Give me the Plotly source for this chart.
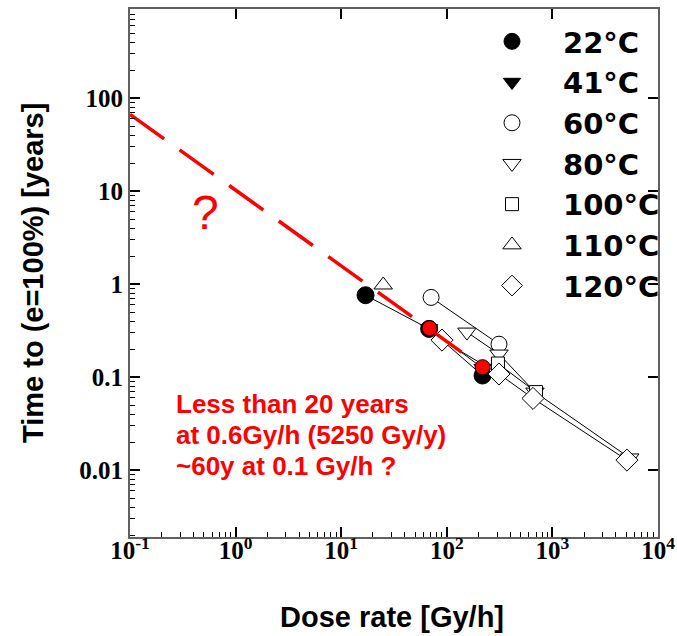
import plotly.graph_objects as go

# ---------------- data ----------------
temps = ["22°C", "41°C", "60°C", "80°C", "100°C", "110°C", "120°C"]

x_22 = [17, 68, 218]
y_22 = [0.76, 0.33, 0.104]
x_41 = [68, 218]
y_41 = [0.335, 0.125]
x_60 = [71, 312]
y_60 = [0.72, 0.226]
x_80 = [155, 312, 684, 5400]
y_80 = [0.305, 0.177, 0.069, 0.0135]
x_100 = [305, 700]
y_100 = [0.14, 0.069]
x_110 = [25]
y_110 = [0.98]
x_120 = [90, 312, 655, 5080]
y_120 = [0.25, 0.108, 0.059, 0.0128]

x_new = [68.7, 218]
y_new = [0.336, 0.128]
x_fit = [0.1, 218]
y_fit = [67, 0.128]

# x tick label text (default log label -> shown label)
x_labels = {
    "0.1": "10<sup>-1</sup>", "1": "10<sup>0</sup>", "10": "10<sup>1</sup>",
    "100": "10<sup>2</sup>", "1000": "10<sup>3</sup>", "1k": "10<sup>3</sup>",
    "10k": "10<sup>4</sup>", "10000": "10<sup>4</sup>", "10,000": "10<sup>4</sup>",
}

note_lines = ["Less than 20 years", "at 0.6Gy/h (5250 Gy/y)", "~60y at 0.1 Gy/h ?"]

# ---------------- styles ----------------
W, H = 677, 636
L, R, T, B = 130, 19, 9, 99
PW, PH = W - L - R, H - T - B
XR = [-1, 4]
YR = [-2.72, 2.96]

def px_x(p):
    return (p - L) / PW

def px_y(p):
    return (H - B - p) / PH

series = [
    (x_22, y_22, "circle", "black", 17),
    (x_41, y_41, "triangle-down", "black", 15),
    (x_60, y_60, "circle", "white", 16),
    (x_80, y_80, "triangle-down", "white", 16),
    (x_100, y_100, "square", "white", 13),
    (x_110, y_110, "triangle-up", "white", 16),
    (x_120, y_120, "diamond", "white", 17),
]

fig = go.Figure()
# connecting lines (not in legend)
for name, (xs, ys, sym, fill, size) in zip(temps, series):
    if len(xs) > 1:
        fig.add_trace(go.Scatter(
            x=xs, y=ys, mode="lines", showlegend=False,
            line=dict(color="black", width=1), hoverinfo="skip",
        ))
# markers (legend entries)
for name, (xs, ys, sym, fill, size) in zip(temps, series):
    fig.add_trace(go.Scatter(
        x=xs, y=ys, name=name, mode="markers",
        marker=dict(symbol=sym, size=size, color=fill,
                    line=dict(color="black", width=1)),
    ))

# red extrapolation (top/right axes) and red points (minor-tick axes);
# all axes share identical ranges, so positions are the same.
fig.add_trace(go.Scatter(
    x=x_fit, y=y_fit, mode="lines", showlegend=False, xaxis="x2", yaxis="y2",
    line=dict(color="#ff0000", width=3.5, dash="42px,19px"),
))
fig.add_trace(go.Scatter(
    x=x_new, y=y_new, mode="markers", showlegend=False, xaxis="x3", yaxis="y3",
    marker=dict(symbol="circle", size=15, color="#ff0000",
                line=dict(color="black", width=1)),
))

tick_font = dict(family="Liberation Serif", size=25, color="black", weight="bold")
minor_x = [m * 10 ** k for k in range(-1, 4) for m in range(2, 10)]
minor_y = [m * 10.0 ** k for k in range(-3, 3) for m in range(2, 10)]
major_tick = dict(ticks="inside", ticklen=10, tickwidth=1.5, tickcolor="#000000")
minor_tick = dict(ticks="inside", ticklen=5, tickwidth=1.4, tickcolor="#000000")
bare = dict(showgrid=False, zeroline=False, showline=False, showticklabels=False)

fig.update_layout(
    width=W, height=H,
    margin=dict(l=L, r=R, t=T, b=B, autoexpand=False),
    paper_bgcolor="white", plot_bgcolor="white",
    showlegend=True,
    legend=dict(
        x=px_x(461), y=px_y(16), xanchor="left", yanchor="top",
        font=dict(family="DejaVu Sans", size=29, color="black", weight="bold"),
        itemwidth=92, bgcolor="rgba(0,0,0,0)", borderwidth=0,
        traceorder="normal",
    ),
    xaxis=dict(
        type="log", range=XR, showgrid=False, zeroline=False,
        showline=True, linecolor="#606060", linewidth=2, mirror=True,
        tickmode="linear", tick0=0, dtick=1, labelalias=x_labels,
        tickfont=tick_font, ticklabelstandoff=-10, **major_tick,
    ),
    yaxis=dict(
        type="log", range=YR, showgrid=False, zeroline=False,
        showline=True, linecolor="#606060", linewidth=2, mirror=True,
        tickmode="linear", tick0=0, dtick=1,
        tickfont=tick_font, **major_tick,
    ),
    xaxis2=dict(type="log", range=XR, overlaying="x", side="top", anchor="y2",
                tickmode="linear", tick0=0, dtick=1, **bare, **major_tick),
    yaxis2=dict(type="log", range=YR, overlaying="y", side="right", anchor="x2",
                tickmode="linear", tick0=0, dtick=1, **bare, **major_tick),
    xaxis3=dict(type="log", range=XR, overlaying="x", side="bottom", anchor="y3",
                tickmode="array", tickvals=minor_x, **bare, **minor_tick),
    yaxis3=dict(type="log", range=YR, overlaying="y", side="left", anchor="x3",
                tickmode="array", tickvals=minor_y, **bare, **minor_tick),
)

title_font = dict(family="Liberation Sans", size=29, color="black", weight="bold")
annotations = [
    dict(text="Dose rate [Gy/h]", x=px_x(392), y=px_y(617), xref="paper", yref="paper",
         showarrow=False, font=title_font, xanchor="center", yanchor="middle"),
    dict(text="Time to (e=100%) [years]", x=px_x(33), y=px_y(273), xref="paper", yref="paper",
         showarrow=False, font=title_font, textangle=-90, xanchor="center", yanchor="middle"),
    dict(text="?", x=px_x(205), y=px_y(212), xref="paper", yref="paper",
         showarrow=False, font=dict(family="Liberation Sans", size=48, color="#ff0000"),
         xanchor="center", yanchor="middle"),
]
note_font = dict(family="Liberation Sans", size=26, color="#ff0000", weight="bold")
for i, line in enumerate(note_lines):
    annotations.append(dict(text=line, x=px_x(174), y=px_y(404 + 31 * i),
                            xref="paper", yref="paper", showarrow=False,
                            font=note_font, xanchor="left", yanchor="middle"))
fig.update_layout(annotations=annotations)

fig.write_html("out.html")
